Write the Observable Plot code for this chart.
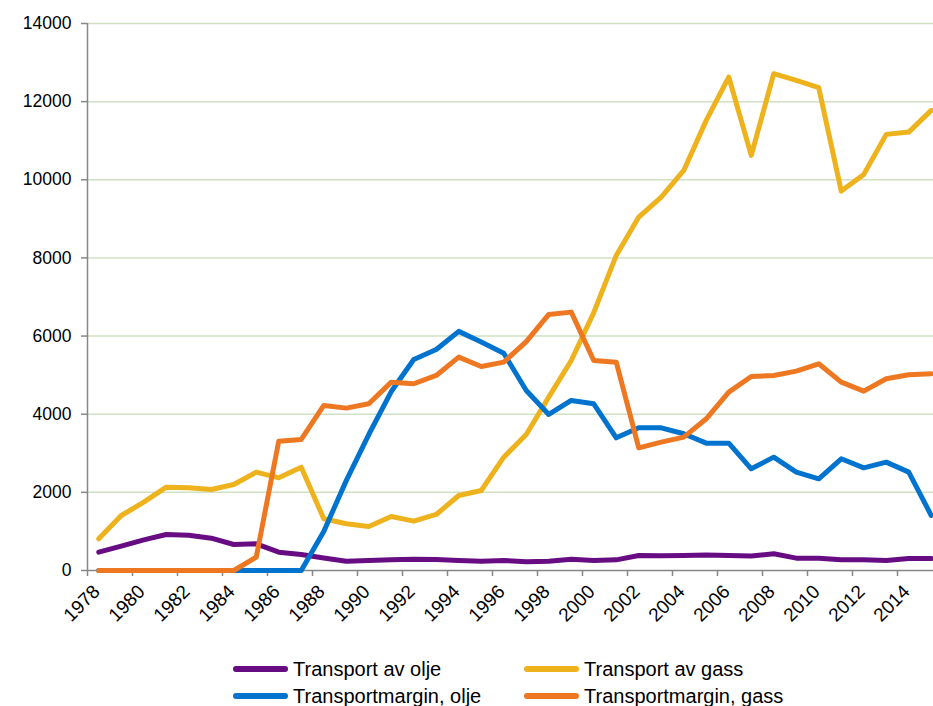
<!DOCTYPE html>
<html><head><meta charset="utf-8">
<script src="https://cdn.jsdelivr.net/npm/d3@7"></script>
<script src="https://cdn.jsdelivr.net/npm/@observablehq/plot@0.6"></script>
<style>
body{margin:0;background:#fff;font-family:"Liberation Sans",Arial,sans-serif;}
#wrap{position:relative;width:933px;height:706px;overflow:hidden;background:#fff;}
#chart svg{display:block;}
.leg{position:absolute;display:flex;align-items:center;font-size:20px;line-height:24px;height:24px;color:#000;white-space:nowrap;}
.sw{width:55px;height:6px;border-radius:3px;margin-right:5px;}
</style></head><body><div id="wrap"><div id="chart"></div><div id="legend"></div></div>
<script>
const years = [1978,1979,1980,1981,1982,1983,1984,1985,1986,1987,1988,1989,1990,1991,1992,1993,1994,1995,1996,1997,1998,1999,2000,2001,2002,2003,2004,2005,2006,2007,2008,2009,2010,2011,2012,2013,2014,2015];
const seriesNames = ["Transport av olje","Transport av gass","Transportmargin, olje","Transportmargin, gass"];
const seriesColors = ["#680c84","#edb21c","#0073cf","#ee7722"];
const transportOlje = [469,623,785,922,904,828,666,683,469,410,320,239,256,273,290,282,256,239,256,225,239,290,256,273,384,375,384,395,385,370,430,316,316,273,273,256,307,307];
const transportGass = [811,1408,1749,2133,2116,2074,2202,2517,2372,2645,1323,1195,1126,1382,1263,1434,1920,2048,2901,3480,4437,5376,6600,8064,9045,9557,10240,11520,12630,10624,12715,12544,12357,9710,10138,11162,11221,11776];
const marginOlje = [0,0,0,0,0,0,0,0,0,0,1000,2300,3480,4580,5400,5655,6120,5850,5560,4608,3994,4352,4267,3396,3652,3652,3499,3260,3260,2603,2901,2517,2346,2859,2628,2773,2517,1408];
const marginGass = [0,0,0,0,0,0,0,341,3311,3354,4224,4156,4267,4821,4779,4992,5461,5222,5333,5860,6554,6613,5376,5333,3140,3285,3413,3883,4565,4966,4992,5103,5291,4821,4591,4907,5009,5035];
const yTicks = [0,2000,4000,6000,8000,10000,12000,14000];
const xLabelYears = [1978,1980,1982,1984,1986,1988,1990,1992,1994,1996,1998,2000,2002,2004,2006,2008,2010,2012,2014];

const seriesValues = [transportOlje, transportGass, marginOlje, marginGass];
const rows = seriesNames.flatMap((name, i) => years.map((year, j) => ({series: name, year, value: seriesValues[i][j]})));
const xTickMarks = xLabelYears.map(y => y - 0.5);
const axisGray = "#878787";

const chart = Plot.plot({
  width: 933, height: 650,
  marginTop: 23, marginBottom: 80, marginLeft: 87, marginRight: 0,
  x: {domain: [1977.5, 2015.1], axis: null},
  y: {domain: [0, 14000], axis: null},
  color: {domain: seriesNames, range: seriesColors},
  style: {fontFamily: "'Liberation Sans', Arial, sans-serif", background: "#fff", color: "#000"},
  marks: [
    Plot.ruleY(yTicks.filter(d => d > 0), {stroke: "#cfe0c3", strokeWidth: 1.5}),
    Plot.ruleY([0], {stroke: axisGray, strokeWidth: 1.5}),
    Plot.ruleX([1977.5], {stroke: axisGray, strokeWidth: 1.5}),
    Plot.axisY({ticks: yTicks, tickSize: 6, tickPadding: 10, fontSize: 17.5, stroke: axisGray, strokeWidth: 1.5, fill: "#000", tickFormat: d => String(d), label: null}),
    Plot.axisX({ticks: xTickMarks, tickSize: 6, stroke: axisGray, strokeWidth: 1.5, fill: "none", tickFormat: () => "", label: null}),
    Plot.text(xLabelYears, {x: d => d, frameAnchor: "bottom", text: d => String(d), rotate: -45, textAnchor: "end", lineAnchor: "middle", dx: -2, dy: 18, fontSize: 19, fill: "#000"}),
    Plot.line(rows, {x: "year", y: "value", z: "series", stroke: "series", strokeWidth: 5, strokeLinejoin: "round", strokeLinecap: "round"})
  ]
});
document.getElementById("chart").appendChild(chart);

const legendPos = [[233, 657], [524, 657], [233, 684], [524, 684]];
const legend = document.getElementById("legend");
seriesNames.forEach((name, i) => {
  const d = document.createElement("div");
  d.className = "leg";
  d.style.left = legendPos[i][0] + "px";
  d.style.top = legendPos[i][1] + "px";
  const sw = document.createElement("span");
  sw.className = "sw";
  sw.style.background = seriesColors[i];
  const t = document.createElement("span");
  t.textContent = name;
  d.appendChild(sw); d.appendChild(t);
  legend.appendChild(d);
});
</script></body></html>
